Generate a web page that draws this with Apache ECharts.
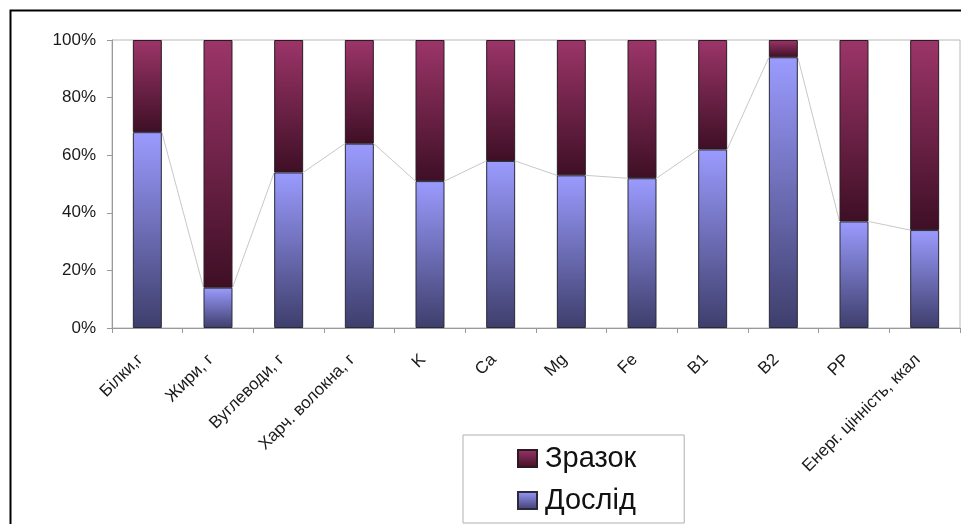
<!DOCTYPE html>
<html>
<head>
<meta charset="utf-8">
<script src="https://cdn.jsdelivr.net/npm/echarts@6/dist/echarts.min.js"></script>
<style>
  html, body { margin: 0; padding: 0; background: #fff; }
  #chart { width: 961px; height: 524px; }
</style>
</head>
<body>
<div id="chart"></div>
<script>
// Nutrient categories along the x axis
const categories = ['Білки,г', 'Жири, г', 'Вуглеводи, г', 'Харч. волокна, г', 'K', 'Ca', 'Mg', 'Fe', 'B1', 'B2', 'PP', 'Енерг. цінність, ккал'];
// Share of each series within a category, percent
const doslid = [68, 14, 54, 64, 51, 58, 53, 52, 62, 94, 37, 34];
const zrazok = [32, 86, 46, 36, 49, 42, 47, 48, 38, 6, 63, 66];
// Y axis tick values
const yTicks = [0, 20, 40, 60, 80, 100];

const seriesNames = ['Зразок', 'Дослід'];
const BAR_RATIO = 0.41;

function vgrad(top, bottom) {
  return new echarts.graphic.LinearGradient(0, 0, 0, 1, [
    { offset: 0, color: top },
    { offset: 1, color: bottom }
  ]);
}

const chart = echarts.init(document.getElementById('chart'), null, { renderer: 'canvas' });

chart.setOption({
  animation: false,
  backgroundColor: '#fff',
  textStyle: { fontFamily: 'Liberation Sans, Arial, sans-serif' },
  graphic: [{
    type: 'rect',
    shape: { x: 10.5, y: 10.5, width: 1200, height: 800 },
    style: { fill: 'none', stroke: '#000', lineWidth: 2 },
    silent: true,
    z: 100
  }],
  grid: {
    left: 112, right: 1, top: 40, bottom: 196,
    show: true, borderColor: '#b8b8b8', borderWidth: 1
  },
  legend: {
    orient: 'vertical',
    left: 463, top: 435,
    data: seriesNames,
    icon: 'rect',
    itemWidth: 19, itemHeight: 17,
    itemGap: 13,
    padding: [9, 48, 8, 54],
    borderColor: '#b0b0b0', borderWidth: 1,
    textStyle: { fontSize: 29, color: '#111', fontFamily: 'Liberation Sans, Arial, sans-serif', padding: [0, 0, 0, 3] }
  },
  xAxis: {
    type: 'category',
    data: categories,
    axisLine: { lineStyle: { color: '#999' } },
    axisTick: { show: true, length: 5, lineStyle: { color: '#999' } },
    axisLabel: {
      rotate: 45, interval: 0, margin: 22,
      fontSize: 17, color: '#1a1a1a',
      padding: [0, 10, 0, 0]
    }
  },
  yAxis: {
    type: 'value',
    min: yTicks[0], max: yTicks[yTicks.length - 1], interval: yTicks[1] - yTicks[0],
    axisLine: { show: true, lineStyle: { color: '#999' } },
    axisTick: { show: true, length: 5, lineStyle: { color: '#999' } },
    splitLine: { show: false },
    axisLabel: { formatter: '{value}%', fontSize: 17, color: '#1a1a1a', margin: 16 }
  },
  series: [
    {
      name: 'Дослід',
      type: 'bar',
      stack: 'share',
      barWidth: (BAR_RATIO * 100) + '%',
      data: doslid,
      itemStyle: {
        color: vgrad('#9b9bff', '#3e3e6c'),
        borderColor: '#2a2a3a', borderWidth: 1
      }
    },
    {
      name: 'Зразок',
      type: 'bar',
      stack: 'share',
      barWidth: (BAR_RATIO * 100) + '%',
      data: zrazok,
      itemStyle: {
        color: vgrad('#9c3569', '#3e0f25'),
        borderColor: '#2a1a22', borderWidth: 1
      }
    },
    {
      // series lines joining the tops of neighbouring Дослід bars
      type: 'custom',
      silent: true,
      z: 1,
      data: doslid.map((v, i) => [i, v]),
      renderItem: function (params, api) {
        const i = params.dataIndex;
        if (i === 0) return null;
        const half = api.size([1, 0])[0] * BAR_RATIO / 2;
        const p0 = api.coord([i - 1, doslid[i - 1]]);
        const p1 = api.coord([i, api.value(1)]);
        return {
          type: 'line',
          shape: { x1: p0[0] + half, y1: p0[1], x2: p1[0] - half, y2: p1[1] },
          style: { stroke: '#c8c8c8', lineWidth: 1 }
        };
      }
    }
  ]
});
</script>
</body>
</html>
